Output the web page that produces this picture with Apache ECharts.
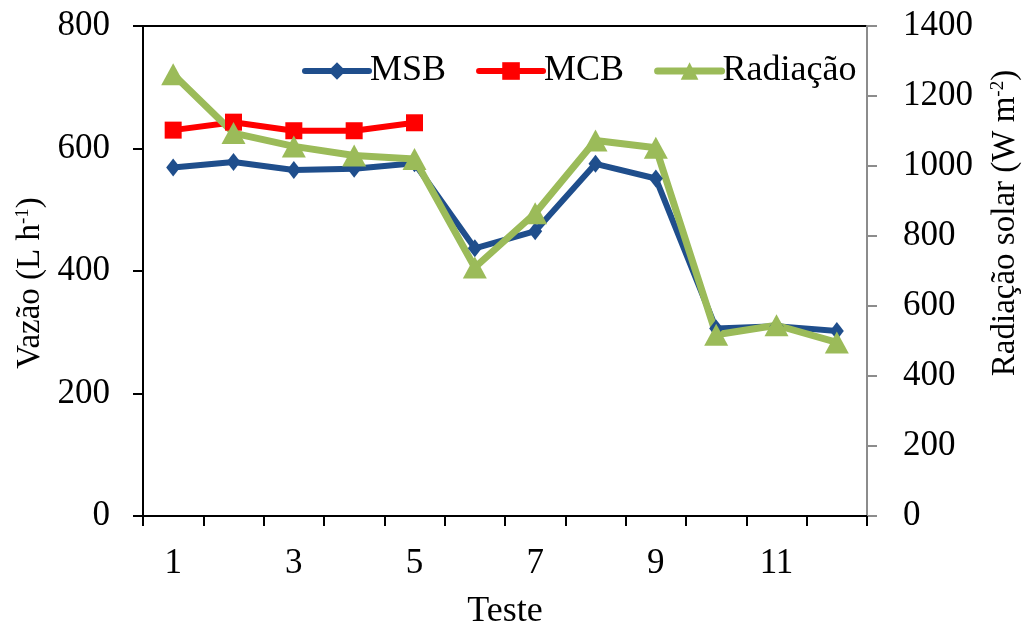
<!DOCTYPE html>
<html>
<head>
<meta charset="utf-8">
<script src="https://cdn.jsdelivr.net/npm/echarts@6/dist/echarts.min.js"></script>
<style>
  html, body { margin: 0; padding: 0; background: #fff; }
  #chart { width: 1030px; height: 635px; }
</style>
</head>
<body>
<div id="chart"></div>
<script>
// Test number on the x axis
const testes = ['1', '2', '3', '4', '5', '6', '7', '8', '9', '10', '11', '12'];
// Flow rate (L h-1), left axis
const msb = [569, 578, 565, 567, 576, 437, 465, 575, 551, 306, 310, 302];
const mcb = [630, 643, 629, 629, 642, null, null, null, null, null, null, null];
// Solar radiation (W m-2), right axis
const radiacao = [1262, 1094, 1056, 1030, 1020, 710, 865, 1073, 1052, 518, 545, 496];

const serif = 'Liberation Serif';
const fs = 35;
const supStyle = { fontFamily: serif, fontSize: 19, color: '#000', verticalAlign: 'top', padding: [0, 0, 13, 0] };
const chart = echarts.init(document.getElementById('chart'));

chart.setOption({
  backgroundColor: '#fff',
  animation: false,
  textStyle: { fontFamily: serif, color: '#000' },
  grid: {
    left: 143, right: 160, top: 26, bottom: 110,
    show: true, borderColor: '#000', borderWidth: 2, backgroundColor: 'transparent'
  },
  legend: {
    left: 297, top: 48,
    itemWidth: 64, itemHeight: 22, itemGap: 30,
    textStyle: { fontFamily: serif, fontSize: 36, color: '#000', padding: [0, 0, 0, -4] },
    data: [
      { name: 'MSB', lineStyle: { width: 6, cap: 'round' } },
      { name: 'MCB', lineStyle: { width: 6, cap: 'round' } },
      { name: 'Radiação', lineStyle: { width: 7, cap: 'round' } }
    ]
  },
  xAxis: {
    type: 'category',
    data: testes,
    boundaryGap: true,
    name: 'Teste',
    nameLocation: 'middle',
    nameGap: 78,
    nameTextStyle: { fontFamily: serif, fontSize: 36, color: '#000' },
    axisLine: { lineStyle: { color: '#000', width: 2 } },
    axisTick: { show: true, interval: 0, length: 10, lineStyle: { color: '#000', width: 2 } },
    axisLabel: { interval: 1, margin: 30, fontFamily: serif, fontSize: fs, color: '#000' },
    splitLine: { show: false }
  },
  yAxis: [
    {
      type: 'value',
      min: 0, max: 800, interval: 200,
      position: 'left',
      name: 'Vazão (L h{sup|-1})',
      nameLocation: 'middle',
      nameRotate: 90,
      nameGap: 91,
      nameTextStyle: { fontFamily: serif, fontSize: 33, color: '#000', padding: [0, 24, 0, 0], rich: { sup: supStyle } },
      axisLine: { show: true, lineStyle: { color: '#000', width: 2 } },
      axisTick: { show: true, length: 10, lineStyle: { color: '#000', width: 2 } },
      axisLabel: { margin: 33, fontFamily: serif, fontSize: fs, color: '#000' },
      splitLine: { show: false }
    },
    {
      type: 'value',
      min: 0, max: 1400, interval: 200,
      position: 'right',
      name: 'Radiação solar (W m{sup|-2})',
      nameLocation: 'middle',
      nameRotate: 90,
      nameGap: 122,
      nameTextStyle: { fontFamily: serif, fontSize: 33, color: '#000', padding: [0, 0, 0, 96], rich: { sup: supStyle } },
      axisLine: { show: true, lineStyle: { color: '#8c8c8c', width: 2 } },
      axisTick: { show: true, length: 10, lineStyle: { color: '#8c8c8c', width: 2 } },
      axisLabel: { margin: 36, fontFamily: serif, fontSize: fs, color: '#000', formatter: (v) => String(v) },
      splitLine: { show: false }
    }
  ],
  series: [
    {
      name: 'MSB', type: 'line', yAxisIndex: 0, data: msb,
      symbol: 'diamond', symbolSize: [14, 18],
      itemStyle: { color: '#1f4e8c' },
      lineStyle: { color: '#1f4e8c', width: 6 }
    },
    {
      name: 'MCB', type: 'line', yAxisIndex: 0, data: mcb,
      symbol: 'rect', symbolSize: 17,
      itemStyle: { color: '#ff0000' },
      lineStyle: { color: '#ff0000', width: 6 }
    },
    {
      name: 'Radiação', type: 'line', yAxisIndex: 1, data: radiacao,
      symbol: 'triangle', symbolSize: [24, 22],
      itemStyle: { color: '#9bbb59' },
      lineStyle: { color: '#9bbb59', width: 7 }
    }
  ]
});
</script>
</body>
</html>
